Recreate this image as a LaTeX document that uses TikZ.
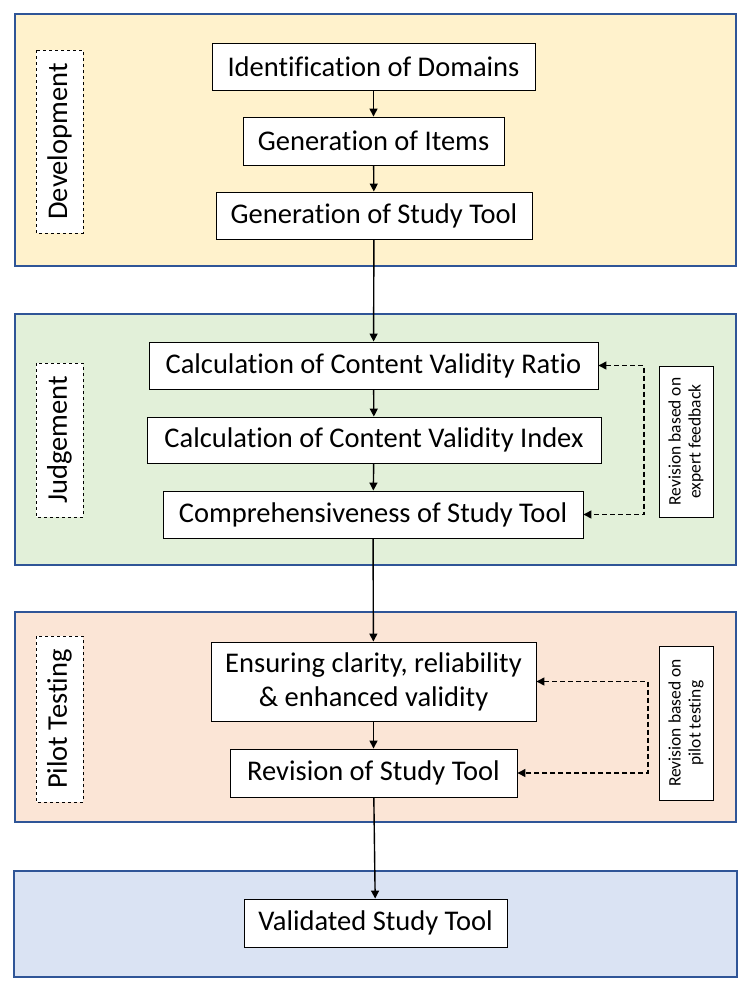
\documentclass[tikz,border=0pt]{standalone}
\usepackage{fontspec}
\setmainfont{Carlito}[Ligatures=NoCommon]
\usetikzlibrary{arrows.meta}
\definecolor{panelborder}{HTML}{2F5597}
\definecolor{devfill}{HTML}{FFF2CC}
\definecolor{judfill}{HTML}{E2F0D9}
\definecolor{pilfill}{HTML}{FBE5D6}
\definecolor{valfill}{HTML}{DAE3F3}
\tikzset{
  panel/.style={draw=panelborder, line width=1.6pt},
  stepbox/.style={draw=black, fill=white, line width=0.9pt, inner sep=2pt, align=center,
    font=\fontsize{28.5}{34}\selectfont},
  sidelabel/.style={draw=black, dashed, fill=white, line width=0.8pt, rotate=90, inner sep=2pt,
    font=\fontsize{28.5}{34}\selectfont, minimum height=47pt},
  revlabel/.style={draw=black, fill=white, line width=0.9pt, rotate=90, inner sep=2pt, align=center,
    font=\fontsize{17.5}{20}\selectfont, minimum height=54pt},
  flow/.style={draw=black, line width=1.4pt, -{Triangle[length=8pt,width=8pt]}},
  dashflow/.style={draw=black, line width=1.4pt, dash pattern=on 5pt off 3pt, {Triangle[length=8pt,width=8pt]}-{Triangle[length=8pt,width=8pt]}}
}
\begin{document}
\begin{tikzpicture}[x=1pt,y=-1pt]
\useasboundingbox[fill=white] (0,0) rectangle (750,991);
% panels
\draw[panel, fill=devfill] (15,14) rectangle (736,266);
\draw[panel, fill=judfill] (15,314) rectangle (736,565);
\draw[panel, fill=pilfill] (15,612) rectangle (736,822);
\draw[panel, fill=valfill] (14,871) rectangle (737,977);
% side labels
\node[sidelabel, minimum width=183pt] (ldev) at (59.5,141.5) {Development};
\node[sidelabel, minimum width=154pt] (ljud) at (59.5,440) {Judgement};
\node[sidelabel, minimum width=166pt] (lpil) at (59.5,719) {Pilot Testing};
% steps
\node[stepbox, minimum width=323pt, minimum height=47pt] (dom) at (373.5,66.5) {Identification of Domains};
\node[stepbox, minimum width=261pt, minimum height=48pt] (items) at (373.5,141) {Generation of Items};
\node[stepbox, minimum width=316pt, minimum height=47pt] (gen) at (374,215.5) {Generation of Study Tool};
\node[stepbox, minimum width=449pt, minimum height=47pt] (cvr) at (373.5,365.5) {Calculation of Content Validity Ratio};
\node[stepbox, minimum width=454pt, minimum height=46pt] (cvi) at (374,440) {Calculation of Content Validity Index};
\node[stepbox, minimum width=420pt, minimum height=47pt] (comp) at (373,514.5) {Comprehensiveness of Study Tool};
\node[stepbox, minimum width=325pt, minimum height=79pt] (ens) at (373.5,681.5) {Ensuring clarity, reliability\\\& enhanced validity};
\node[stepbox, minimum width=287pt, minimum height=48pt] (rev) at (373.5,773) {Revision of Study Tool};
\node[stepbox, minimum width=263pt, minimum height=48pt] (val) at (375.5,923) {Validated Study Tool};
% revision notes
\node[revlabel, minimum width=151pt] (rexp) at (686,441.5) {Revision based on\\expert feedback};
\node[revlabel, minimum width=154pt] (rpil) at (686,723) {Revision based on\\pilot testing};
% connectors
\draw[flow] (dom) -- (items);
\draw[flow] (items) -- (gen);
\draw[flow] (gen) -- (cvr);
\draw[flow] (cvr) -- (cvi);
\draw[flow] (cvi) -- (comp);
\draw[flow] (comp) -- (ens);
\draw[flow] (ens) -- (rev);
\draw[flow] (rev) -- (val);
\coordinate (c1) at (644,365.5);
\coordinate (c2) at (644,514.5);
\coordinate (c3) at (648,681.5);
\coordinate (c4) at (648,773);
\draw[dashflow] (cvr.east) -- (c1) -- (c2) -- (comp.east);
\draw[dashflow] (ens.east) -- (c3) -- (c4) -- (rev.east);
\end{tikzpicture}
\end{document}
